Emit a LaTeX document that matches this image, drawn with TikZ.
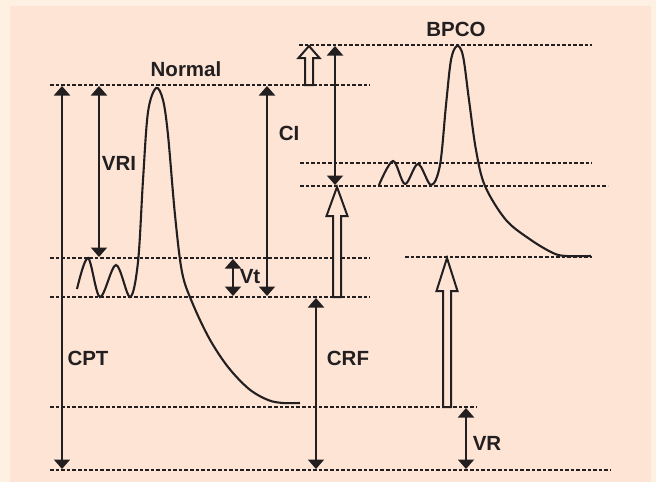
\documentclass[tikz,border=0pt]{standalone}
\usepackage{fontspec}
\setmainfont{Liberation Sans}
\usetikzlibrary{arrows.meta}
\definecolor{outerbg}{HTML}{FEF1E3}
\definecolor{innerbg}{HTML}{FDE4D5}
\definecolor{ink}{HTML}{231F20}
\newcommand\hollowarr[4]{% x, base y, tip y, head length
  \draw[hollow] (#1-4,#2) -- (#1-4,#3+#4) -- (#1-10.5,#3+#4) -- (#1,#3) -- (#1+10.5,#3+#4) -- (#1+4,#3+#4) -- (#1+4,#2) -- cycle;}
\tikzset{
  level/.style={draw=ink, line width=2pt, dash pattern=on 3.6pt off 2pt},
  dim/.style={draw=ink, line width=2pt, {Triangle[width=16pt,length=9.5pt]}-{Triangle[width=16pt,length=9.5pt]}},
  hollow/.style={draw=ink, line width=2pt, fill=innerbg, line join=miter},
  curve/.style={draw=ink, line width=2.1pt},
  lab/.style={font=\fontsize{20.5}{23}\selectfont\bfseries, text=ink, inner sep=0pt}
}
\begin{document}
\begin{tikzpicture}[x=1pt,y=-1pt]
\fill[outerbg] (0,0) rectangle (656,482);
\fill[innerbg] (10,6) rectangle (651,482);
\useasboundingbox (0,0) rectangle (656,482);

% level lines (normal)
\coordinate (nTopL) at (50,85);  \coordinate (nTopR) at (370,85);
\coordinate (nVtL) at (50,258);  \coordinate (nVtR) at (370,258);
\coordinate (nFrcL) at (50,297); \coordinate (nFrcR) at (370,297);
\coordinate (nVrL) at (50,407);  \coordinate (nVrR) at (476,407);
\coordinate (botL) at (50,470);  \coordinate (botR) at (611,470);
% level lines (BPCO)
\coordinate (bTopL) at (299,45);  \coordinate (bTopR) at (592,45);
\coordinate (bVtL) at (300,163);  \coordinate (bVtR) at (592,163);
\coordinate (bFrcL) at (300,186); \coordinate (bFrcR) at (608,186);
\coordinate (bVrL) at (405,257);  \coordinate (bVrR) at (592,257);

\foreach \a/\b in {nTopL/nTopR,nVtL/nVtR,nFrcL/nFrcR,nVrL/nVrR,botL/botR,bTopL/bTopR,bVtL/bVtR,bFrcL/bFrcR,bVrL/bVrR}
  \draw[level] (\a) -- (\b);

% dimension arrows
\coordinate (cptT) at (62,86);   \coordinate (cptB) at (62,469);
\coordinate (vriT) at (99,86);   \coordinate (vriB) at (99,257);
\coordinate (ciT) at (267,86);   \coordinate (ciB) at (267,296);
\coordinate (vtT) at (233,259);  \coordinate (vtB) at (233,296);
\coordinate (crfT) at (316,298); \coordinate (crfB) at (316,469);
\coordinate (vrT) at (466,408);  \coordinate (vrB) at (466,469);
\coordinate (bciT) at (335,46);  \coordinate (bciB) at (335,185);
\foreach \a/\b in {cptT/cptB,vriT/vriB,ciT/ciB,vtT/vtB,crfT/crfB,vrT/vrB,bciT/bciB}
  \draw[dim] (\a) -- (\b);

% hollow arrows
\hollowarr{309}{85}{46}{12}
\hollowarr{337}{297}{187}{29}
\hollowarr{447}{407}{258}{33}

% curves
\draw[curve] plot[smooth, tension=0.55] coordinates {
 (77,289) (88,258) (100,297) (116,265) (130,297) (138,262) (143,180) (148,112) (156,88)
 (163,100) (168,135) (175,215) (182,272) (192,302) (209,338) (228,367) (249,389) (268,400) (283,403) (300,403)};
\draw[curve] plot[smooth, tension=0.55] coordinates {
 (379,185) (393,161) (405,184) (418,164) (431,185) (440,165) (446,105) (451,60) (457,46)
 (463,56) (469,100) (476,150) (485,186) (506,220) (531,240) (553,253) (566,256) (591,256)};

% labels
\node[lab] (normal) at (186,69) {Normal};
\node[lab] (bpco) at (456,29) {BPCO};
\node[lab] (vri) at (119,163) {VRI};
\node[lab] (ci) at (289,133) {CI};
\node[lab] (vt) at (250,277) {Vt};
\node[lab] (cpt) at (88,358) {CPT};
\node[lab] (crf) at (348,358) {CRF};
\node[lab] (vr) at (487,443) {VR};
\end{tikzpicture}
\end{document}
